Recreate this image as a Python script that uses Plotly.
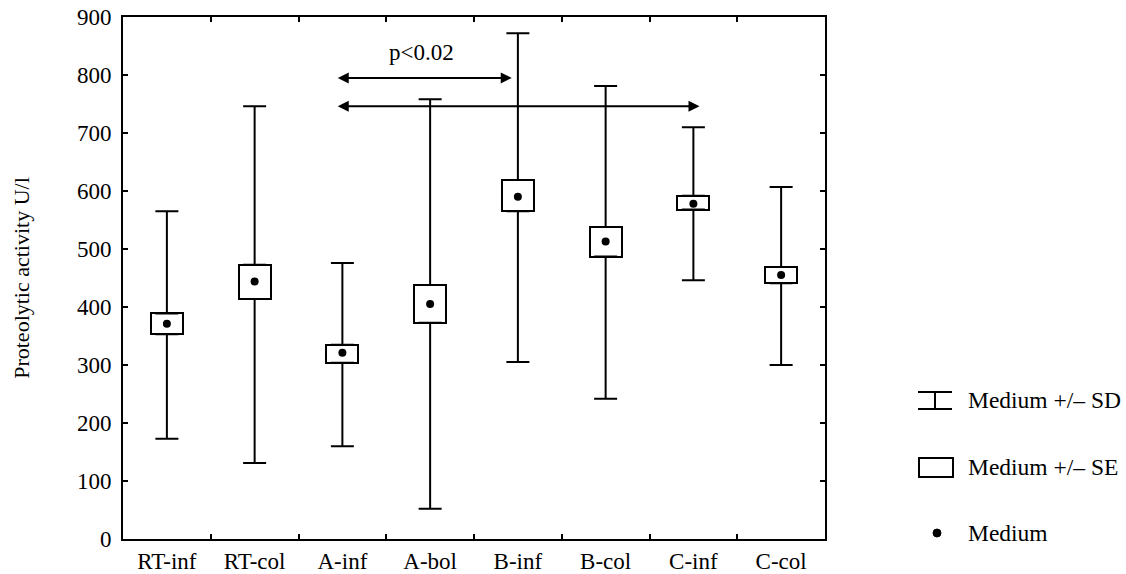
import plotly.graph_objects as go

# ---- data ----
categories = ["RT-inf", "RT-col", "A-inf", "A-bol", "B-inf", "B-col", "C-inf", "C-col"]
medians = [371, 444, 321, 405, 590, 513, 578, 455]
se_low = [353, 414, 304, 373, 565, 487, 568, 441]
se_high = [389, 473, 335, 438, 619, 538, 592, 469]
sd_low = [173, 131, 160, 52, 305, 242, 446, 300]
sd_high = [565, 746, 476, 758, 872, 781, 710, 607]

y_ticks = [0, 100, 200, 300, 400, 500, 600, 700, 800, 900]
y_title = "Proteolytic activity U/l"

# significance brackets: (from, to, level)
sig_pairs = [("A-inf", "B-inf", 795), ("A-inf", "C-inf", 746)]
sig_label = "p<0.02"
sig_label_y = 838

legend_labels = ["Medium +/\u2013 SD", "Medium +/\u2013 SE", "Medium"]

FONT = "Liberation Serif, Times New Roman, serif"
BLACK = "#000000"

W, H = 1126, 574
ML, MR, MT, MB = 123, 301, 17, 35
PW = W - ML - MR
PH = H - MT - MB


def xp(px):
    return (px - ML) / PW


def yp(py):
    return (H - MB - py) / PH


fig = go.Figure()

# SE boxes (white-filled rectangles)
fig.add_trace(go.Bar(
    x=categories,
    y=[h - l for h, l in zip(se_high, se_low)],
    base=se_low,
    width=0.365,
    marker=dict(color="white", line=dict(color=BLACK, width=2)),
    showlegend=False,
    hoverinfo="skip",
))

# upper SD whiskers (from box top to SD top)
fig.add_trace(go.Scatter(
    x=categories, y=se_high, mode="markers",
    marker=dict(size=1, opacity=0),
    error_y=dict(type="data", symmetric=False,
                 array=[t - h for t, h in zip(sd_high, se_high)],
                 arrayminus=[0] * len(categories),
                 color=BLACK, thickness=2, width=11.5),
    showlegend=False, hoverinfo="skip",
))

# lower SD whiskers (from box bottom to SD bottom)
fig.add_trace(go.Scatter(
    x=categories, y=se_low, mode="markers",
    marker=dict(size=1, opacity=0),
    error_y=dict(type="data", symmetric=False,
                 array=[0] * len(categories),
                 arrayminus=[l - b for l, b in zip(se_low, sd_low)],
                 color=BLACK, thickness=2, width=11.5),
    showlegend=False, hoverinfo="skip",
))

# medians
fig.add_trace(go.Scatter(
    x=categories, y=medians, mode="markers",
    marker=dict(size=8, color=BLACK, symbol="circle"),
    showlegend=False,
))

# significance arrows
for a, b, lvl in sig_pairs:
    ia, ib = categories.index(a), categories.index(b)
    off = 0.07
    x0 = ia - off
    x1 = ib + (off if ib > 5 else -off)
    fig.add_annotation(
        x=x1, y=lvl, ax=x0, ay=lvl, xref="x", yref="y", axref="x", ayref="y",
        showarrow=True, arrowhead=2, startarrowhead=2, arrowside="end+start",
        arrowsize=1.1, startarrowsize=1.1, arrowwidth=2, arrowcolor=BLACK,
        text="",
    )

ia, ib = categories.index(sig_pairs[0][0]), categories.index(sig_pairs[0][1])
fig.add_annotation(
    x=(ia + ib) / 2 - 0.1, y=sig_label_y, xref="x", yref="y",
    text=sig_label, showarrow=False, font=dict(family=FONT, size=23, color=BLACK),
    yanchor="middle", xanchor="center",
)

# ---- manual legend ----
shapes = []
# SD symbol (I-beam)
shapes += [
    dict(type="line", xref="paper", yref="paper", x0=xp(918), x1=xp(952), y0=yp(392), y1=yp(392),
         line=dict(color=BLACK, width=2)),
    dict(type="line", xref="paper", yref="paper", x0=xp(918), x1=xp(952), y0=yp(409), y1=yp(409),
         line=dict(color=BLACK, width=2)),
    dict(type="line", xref="paper", yref="paper", x0=xp(935), x1=xp(935), y0=yp(392), y1=yp(409),
         line=dict(color=BLACK, width=2)),
]
# SE symbol (rectangle)
shapes.append(dict(type="rect", xref="paper", yref="paper", x0=xp(919), x1=xp(953), y0=yp(458), y1=yp(477),
                   line=dict(color=BLACK, width=2), fillcolor="white"))
# median symbol (dot)
shapes.append(dict(type="circle", xref="paper", yref="paper", x0=xp(933), x1=xp(941), y0=yp(529), y1=yp(537),
                   line=dict(color=BLACK, width=1), fillcolor=BLACK))

for lbl, cy in zip(legend_labels, [400, 467, 533]):
    fig.add_annotation(
        x=xp(966), y=yp(cy), xref="paper", yref="paper", text=lbl, showarrow=False,
        xanchor="left", yanchor="middle", font=dict(family=FONT, size=23.5, color=BLACK),
    )

fig.update_layout(
    width=W, height=H,
    margin=dict(l=ML, r=MR, t=MT, b=MB, autoexpand=False),
    paper_bgcolor="white", plot_bgcolor="white",
    font=dict(family=FONT, size=22, color=BLACK),
    shapes=shapes,
    showlegend=False,
    bargap=0,
)

fig.update_xaxes(
    type="category", categoryorder="array", categoryarray=categories,
    range=[-0.5, len(categories) - 0.5], automargin=False,
    showline=True, linecolor=BLACK, linewidth=2, mirror="allticks",
    ticks="inside", ticklen=5, tickwidth=2, tickcolor=BLACK, tickson="boundaries",
    showgrid=False, zeroline=False,
    tickfont=dict(family=FONT, size=23, color=BLACK),
)
fig.update_yaxes(
    range=[0, 900], tickvals=y_ticks, automargin=False,
    showline=True, linecolor=BLACK, linewidth=2, mirror="allticks",
    ticks="inside", ticklen=5, tickwidth=2, tickcolor=BLACK,
    showgrid=False, zeroline=False,
    tickfont=dict(family=FONT, size=23, color=BLACK),
    ticklabelstandoff=5,
    title=dict(text=y_title, font=dict(family=FONT, size=22, color=BLACK), standoff=41),
)

fig.write_html(
    "out.html",
    config={"displayModeBar": False},
    post_script="document.body.style.margin='0px';document.body.style.overflow='hidden';",
)
